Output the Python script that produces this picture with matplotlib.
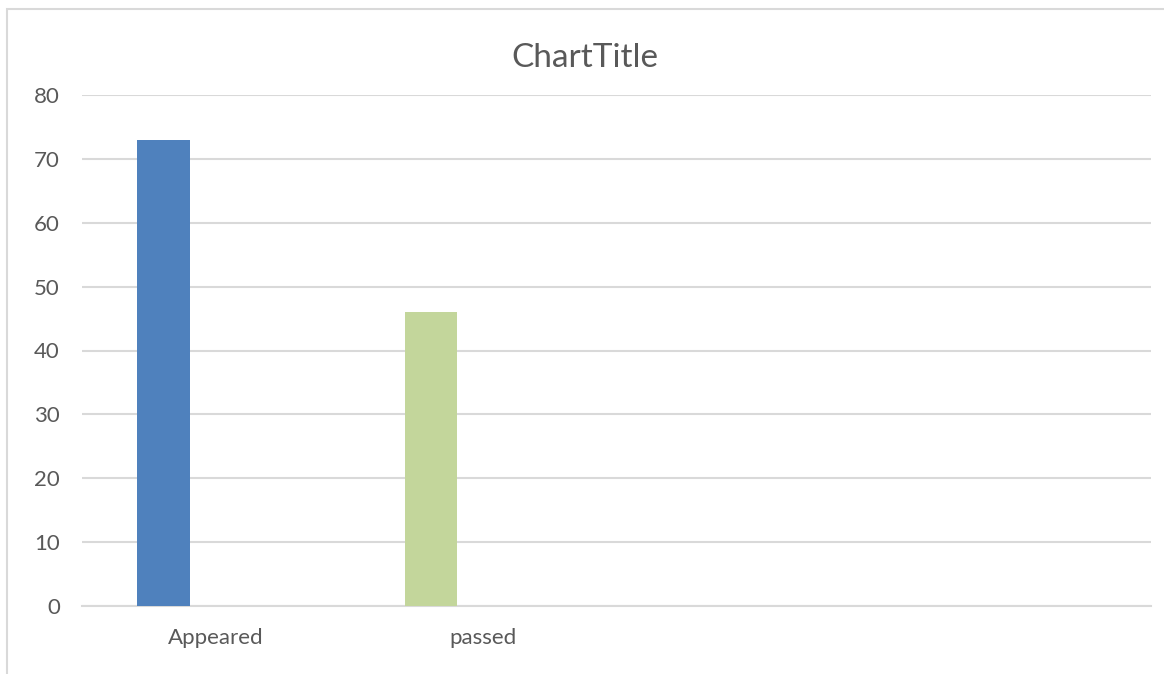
import numpy as np
import matplotlib.pyplot as plt
from matplotlib.patches import Rectangle

categories = ["Appeared", "passed", "", ""]
values = [73, 46, 0, 0]
bar_colors = ["#4F81BD", "#C3D69B", "#4F81BD", "#4F81BD"]
y_ticks = [0, 10, 20, 30, 40, 50, 60, 70, 80]

plt.rcParams['font.family'] = ['Lato', 'DejaVu Sans']

fig = plt.figure(figsize=(11.64, 6.74), dpi=100)
ax = fig.add_axes([82 / 1164, 68 / 674, (1151 - 82) / 1164, (606 - 95) / 674])

# chart area border (light gray, like the office chart frame)
fig.patches.append(Rectangle((7 / 1164, -0.1), 1.2, (674 - 9) / 674 + 0.1,
                             transform=fig.transFigure, fill=False,
                             edgecolor='#D9D9D9', linewidth=1.5))

x = np.arange(len(categories))
w = 0.195
ax.bar(x - w, values, width=w, color=bar_colors, zorder=3)

ax.set_xlim(-0.5, len(categories) - 0.5)
ax.set_ylim(0, 80)
ax.set_yticks(y_ticks)
ax.set_xticks(x)
ax.set_xticklabels(categories)
ax.yaxis.grid(True, color='#D9D9D9', linewidth=1.5, zorder=0)
ax.set_axisbelow(True)
for s in ['top', 'right', 'left']:
    ax.spines[s].set_visible(False)
ax.spines['bottom'].set_color('#D9D9D9')
ax.spines['bottom'].set_linewidth(1.5)
ax.tick_params(axis='both', length=0, colors='#595959', labelsize=16)
ax.tick_params(axis='y', pad=16)
ax.tick_params(axis='x', pad=16)

fig.text(585 / 1164, 1 - 58 / 674, "ChartTitle", ha='center', va='center',
         fontsize=24, color='#595959')

fig.savefig('out.png', dpi=100, facecolor='white')
